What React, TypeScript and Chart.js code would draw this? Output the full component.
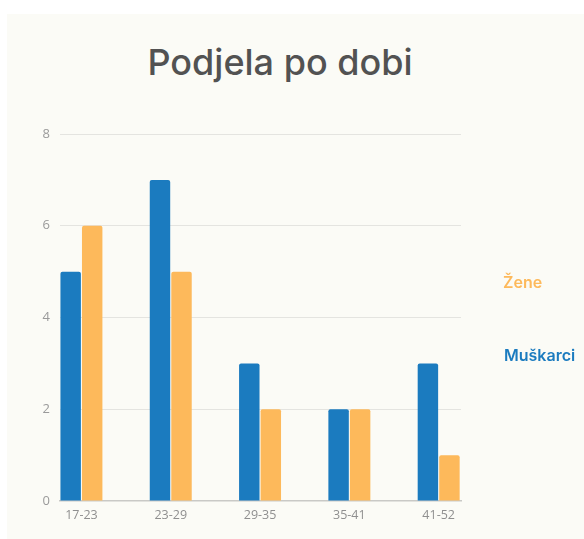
import React, { useEffect, useRef } from "react";
import { Chart, registerables } from "chart.js";

Chart.register(...registerables);

const categories = ["17-23", "23-29", "29-35", "35-41", "41-52"];
const muskarci = [5, 7, 3, 2, 3];
const zene = [6, 5, 2, 2, 1];
const yTicks = [0, 2, 4, 6, 8];

const BLUE = "#1b7bbf";
const ORANGE = "#fdb95b";
const BG = "#fbfbf6";

export default function App() {
  const ref = useRef<HTMLCanvasElement | null>(null);

  useEffect(() => {
    if (!ref.current) return;
    const toPts = (arr: number[]) => arr.map((v, i) => ({ x: i, y: v }));
    const chart = new Chart(ref.current, {
      type: "bar",
      data: {
        datasets: [
          {
            label: "Muškarci",
            data: toPts(muskarci),
            backgroundColor: BLUE,
            borderRadius: 2,
            borderSkipped: "bottom",
            categoryPercentage: 0.482,
            barPercentage: 0.95,
          },
          {
            label: "Žene",
            data: toPts(zene),
            backgroundColor: ORANGE,
            borderRadius: 2,
            borderSkipped: "bottom",
            categoryPercentage: 0.482,
            barPercentage: 0.95,
          },
        ],
      },
      options: {
        responsive: false,
        animation: false,
        layout: { padding: { left: 0, right: 123, top: 134, bottom: 0 } },
        plugins: {
          legend: { display: false },
          title: { display: false },
          tooltip: { enabled: false },
        },
        scales: {
          x: {
            type: "linear",
            min: -0.24,
            max: 4.25,
            offset: false,
            grid: { display: false, drawTicks: false },
            border: { display: true, color: "#c9c9c6", width: 1.5 },
            afterBuildTicks: (scale: any) => {
              scale.ticks = categories.map((_, i) => ({ value: i }));
            },
            afterFit: (scale: any) => {
              scale.height = 38;
            },
            ticks: {
              padding: 7,
              color: "#8f8f8f",
              font: { family: "'Open Sans'", size: 12.5 },
              callback: (v: any) => categories[v as number] ?? "",
              maxRotation: 0,
              autoSkip: false,
            },
          },
          y: {
            min: 0,
            max: 8,
            afterBuildTicks: (scale: any) => {
              scale.ticks = yTicks.map((v) => ({ value: v }));
            },
            afterFit: (scale: any) => {
              scale.width = 60;
            },
            border: { display: false },
            grid: {
              drawTicks: false,
              color: (ctx: any) => (ctx.tick && ctx.tick.value === 0 ? "rgba(0,0,0,0)" : "#e4e4e0"),
              lineWidth: 1,
            },
            ticks: {
              padding: 10,
              color: "#9a9a9a",
              font: { family: "'Open Sans'", size: 13 },
            },
          },
        },
      },
    });
    return () => chart.destroy();
  }, []);

  return (
    <div style={{ position: "fixed", left: 0, top: 0, width: 584, height: 539, background: "#ffffff", overflow: "hidden" }}>
      <div style={{ position: "absolute", left: 7, top: 14, right: 0, bottom: 0, background: BG }} />
      <div
        style={{
          position: "absolute",
          left: 0,
          width: 560,
          top: 36,
          textAlign: "center",
          fontFamily: "Inter, 'Noto Sans', sans-serif",
          fontWeight: 500,
          fontSize: 36,
          color: "#525252",
          lineHeight: "52px",
          whiteSpace: "nowrap",
        }}
      >
        Podjela po dobi
      </div>
      <canvas ref={ref} width={584} height={539} style={{ position: "absolute", left: 0, top: 0 }} />
      <div
        style={{
          position: "absolute",
          left: 503,
          top: 270,
          fontFamily: "Inter, 'Noto Sans', sans-serif",
          fontWeight: 600,
          fontSize: 16,
          color: ORANGE,
          lineHeight: "24px",
        }}
      >
        Žene
      </div>
      <div
        style={{
          position: "absolute",
          left: 504,
          top: 343,
          fontFamily: "Inter, 'Noto Sans', sans-serif",
          fontWeight: 600,
          fontSize: 16,
          color: BLUE,
          lineHeight: "24px",
        }}
      >
        Muškarci
      </div>
    </div>
  );
}
